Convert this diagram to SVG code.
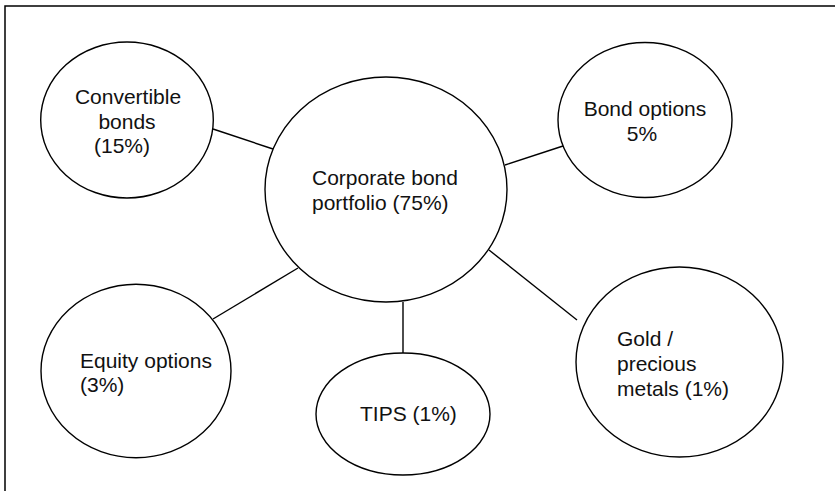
<svg xmlns="http://www.w3.org/2000/svg" width="835" height="491" viewBox="0 0 835 491">
<style>
.n{fill:#fff;stroke:#000;stroke-width:1.4}
.t{font-family:"Liberation Sans",Arial,sans-serif;font-size:21px;fill:#111}
.c{stroke:#000;stroke-width:1.4;fill:none}
.b{stroke:#000;stroke-width:1.5;fill:none}
</style>
<rect width="835" height="491" fill="#fff"/>
<path class="b" d="M5,491 V6 H835"/>
<g id="connectors">
<line class="c" x1="213" y1="129" x2="273" y2="149"/>
<line class="c" x1="505" y1="165" x2="563" y2="146"/>
<line class="c" x1="213" y1="319" x2="298" y2="268"/>
<line class="c" x1="403" y1="302" x2="403" y2="353"/>
<line class="c" x1="489" y1="250" x2="577" y2="320"/>
</g>
<g id="center">
<ellipse class="n" cx="386" cy="189.5" rx="121" ry="112.5"/>
<text class="t" x="312" y="185">Corporate bond</text>
<text class="t" x="312" y="210">portfolio (75%)</text>
</g>
<g id="convertible">
<ellipse class="n" cx="127" cy="120" rx="86.3" ry="78"/>
<text class="t" text-anchor="middle" x="128" y="104">Convertible</text>
<text class="t" text-anchor="middle" x="127" y="129">bonds</text>
<text class="t" text-anchor="middle" x="122" y="153">(15%)</text>
</g>
<g id="bond-options">
<ellipse class="n" cx="645" cy="120" rx="87" ry="77.5"/>
<text class="t" text-anchor="middle" x="645" y="116">Bond options</text>
<text class="t" text-anchor="middle" x="642" y="141">5%</text>
</g>
<g id="equity-options">
<ellipse class="n" cx="136" cy="371" rx="95" ry="86.7"/>
<text class="t" x="80" y="368">Equity options</text>
<text class="t" x="80" y="392">(3%)</text>
</g>
<g id="tips">
<ellipse class="n" cx="403" cy="414" rx="87" ry="61"/>
<text class="t" x="360" y="421">TIPS (1%)</text>
</g>
<g id="gold">
<ellipse class="n" cx="679.5" cy="362" rx="103.5" ry="95"/>
<text class="t" x="617" y="346">Gold /</text>
<text class="t" x="617" y="371">precious</text>
<text class="t" x="617" y="396">metals (1%)</text>
</g>
</svg>
